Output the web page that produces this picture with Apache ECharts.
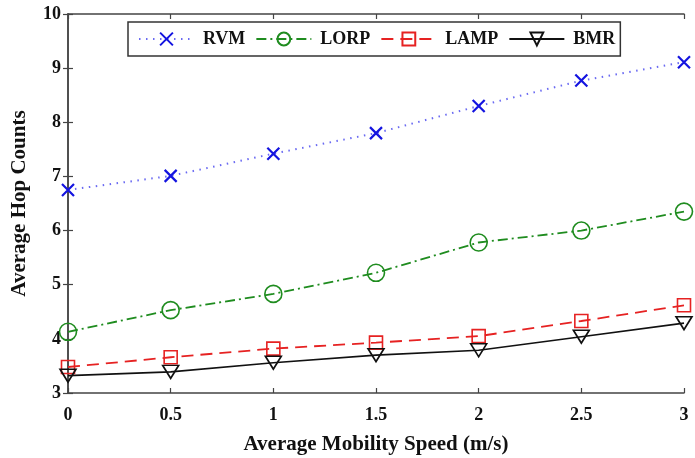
<!DOCTYPE html>
<html>
<head>
<meta charset="utf-8">
<script src="https://cdn.jsdelivr.net/npm/echarts@6/dist/echarts.min.js"></script>
<style>
html,body{margin:0;padding:0;background:#fff;}
#chart{width:695px;height:458px;}
</style>
</head>
<body>
<div id="chart"></div>
<script>
var speeds = [0, 0.5, 1, 1.5, 2, 2.5, 3];
var rvm  = [6.75, 7.01, 7.42, 7.80, 8.30, 8.77, 9.11];
var lorp = [4.13, 4.53, 4.83, 5.22, 5.78, 6.00, 6.35];
var lamp = [3.48, 3.66, 3.82, 3.93, 4.05, 4.33, 4.62];
var bmr  = [3.32, 3.39, 3.56, 3.70, 3.79, 4.04, 4.29];
var seriesNames = ['RVM', 'LORP', 'LAMP', 'BMR'];
var xTitle = 'Average Mobility Speed (m/s)';
var yTitle = 'Average Hop Counts';

function pairs(vals){ return speeds.map(function(s,i){ return [s, vals[i]]; }); }

var font = '"Liberation Serif", "Times New Roman", serif';
var axisColor = '#444';

var chart = echarts.init(document.getElementById('chart'), null, {renderer:'canvas'});
chart.setOption({
  animation:false,
  backgroundColor:'#fff',
  grid:{left:68, right:11, top:14, bottom:65, containLabel:false, outerBoundsMode:'none'},
  legend:{
    left:128, top:22,
    padding:[8,5,8,10],
    borderColor:'#333', borderWidth:1.5, borderRadius:0,
    itemWidth:55, itemHeight:16, itemGap:10,
    backgroundColor:'#fff',
    textStyle:{fontFamily:font, fontWeight:'bold', fontSize:18, color:'#111', padding:[0,0,0,4]},
    data:seriesNames
  },
  xAxis:[{
    type:'value', min:0, max:3, interval:0.5, position:'bottom',
    name:xTitle, nameLocation:'middle', nameGap:41,
    nameTextStyle:{fontFamily:font, fontWeight:'bold', fontSize:21, color:'#111'},
    axisLine:{show:true, lineStyle:{color:axisColor, width:1.5}},
    axisTick:{show:true, inside:true, length:5, lineStyle:{color:axisColor, width:1.2}},
    axisLabel:{fontFamily:font, fontWeight:'bold', fontSize:18, color:'#111', margin:13},
    splitLine:{show:false}
  },{
    type:'value', min:0, max:3, interval:0.5, position:'top',
    axisLine:{show:true, lineStyle:{color:axisColor, width:1.5}},
    axisTick:{show:true, inside:true, length:5, lineStyle:{color:axisColor, width:1.2}},
    axisLabel:{show:false}, splitLine:{show:false}
  }],
  yAxis:[{
    type:'value', min:3, max:10, interval:1, position:'left',
    name:yTitle, nameLocation:'middle', nameGap:38,
    nameTextStyle:{fontFamily:font, fontWeight:'bold', fontSize:21, color:'#111'},
    axisLine:{show:true, lineStyle:{color:axisColor, width:1.5}},
    axisTick:{show:true, inside:true, length:5, lineStyle:{color:axisColor, width:1.2}},
    axisLabel:{fontFamily:font, fontWeight:'bold', fontSize:18, color:'#111', margin:7},
    splitLine:{show:false}
  },{
    type:'value', min:3, max:10, interval:1, position:'right',
    axisLine:{show:true, lineStyle:{color:axisColor, width:1.5}},
    axisTick:{show:true, inside:true, length:5, lineStyle:{color:axisColor, width:1.2}},
    axisLabel:{show:false}, splitLine:{show:false}
  }],
  series:[{
    name:seriesNames[0], type:'line', data:pairs(rvm),
    symbol:'path://M0,0L10,10M0,10L10,0', symbolSize:12,
    lineStyle:{color:'#6a6af2', width:2, type:[1.5,5.5]},
    itemStyle:{color:'rgba(0,0,0,0)', borderColor:'#1414e0', borderWidth:2.2}
  },{
    name:seriesNames[1], type:'line', data:pairs(lorp),
    symbol:'circle', symbolSize:17,
    lineStyle:{color:'#1f8c1f', width:1.8, type:[10,4,2,4]},
    itemStyle:{color:'rgba(0,0,0,0)', borderColor:'#1f8c1f', borderWidth:1.6}
  },{
    name:seriesNames[2], type:'line', data:pairs(lamp),
    symbol:'rect', symbolSize:13,
    lineStyle:{color:'#e62222', width:1.8, type:[12,7]},
    itemStyle:{color:'rgba(0,0,0,0)', borderColor:'#e62222', borderWidth:1.6}
  },{
    name:seriesNames[3], type:'line', data:pairs(bmr),
    symbol:'triangle', symbolRotate:180, symbolSize:[16,13],
    lineStyle:{color:'#111', width:1.6, type:'solid'},
    itemStyle:{color:'rgba(0,0,0,0)', borderColor:'#111', borderWidth:1.6}
  }]
});
</script>
</body>
</html>
